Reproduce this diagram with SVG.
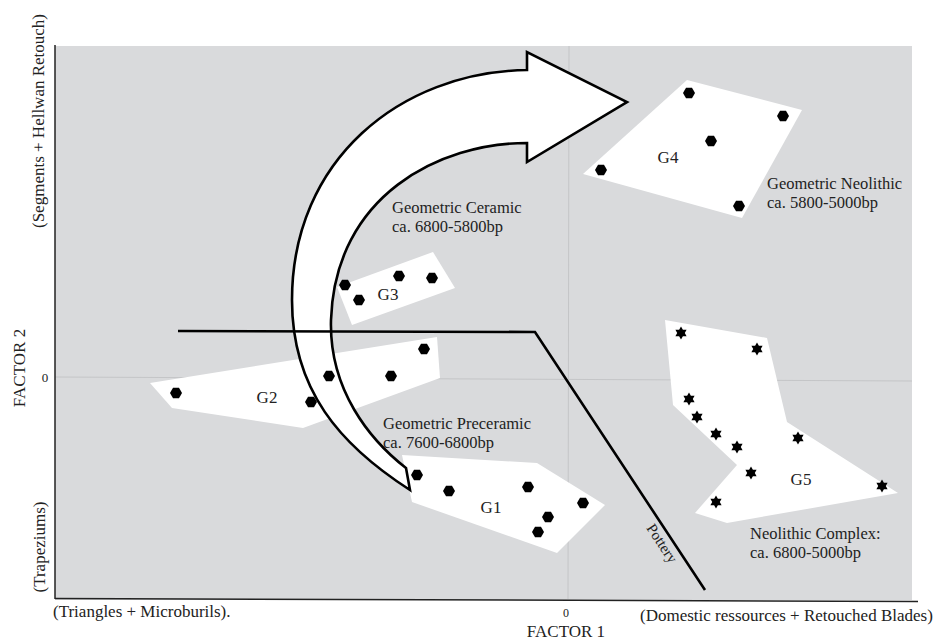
<svg xmlns="http://www.w3.org/2000/svg" xmlns:xlink="http://www.w3.org/1999/xlink" width="938" height="642" viewBox="0 0 938 642">
<style>
text{font-family:"Liberation Serif","Times New Roman",serif;fill:#222;font-size:17px}
.lbl{font-size:16.5px}
.zone{fill:#ffffff;stroke:none}
.axis{stroke:#222;stroke-width:1.5;fill:none}
.zero{stroke:#c4c5c7;stroke-width:1;fill:none}
.conn{stroke:#000;stroke-width:2.6;fill:none;stroke-linejoin:miter}
.mid{text-anchor:middle}
</style>
<defs>
<polygon id="hex" points="6,0 3,5.2 -3,5.2 -6,0 -3,-5.2 3,-5.2" fill="#000"/>
<polygon id="star" points="0,-6.5 1.9,-3.3 5.6,-3.3 3.8,0 5.6,3.3 1.9,3.3 0,6.5 -1.9,3.3 -5.6,3.3 -3.8,0 -5.6,-3.3 -1.9,-3.3" fill="#000"/>
</defs>
<rect width="938" height="642" fill="#fff"/>
<g id="plot">
<rect x="55" y="46" width="857" height="554" fill="#d9dadc"/>
<line class="zero" x1="55" y1="377" x2="912" y2="381"/>
<line class="zero" x1="569" y1="46" x2="568" y2="599"/>
<line class="axis" x1="55" y1="45" x2="55" y2="599"/>
<line class="axis" x1="55" y1="598.5" x2="918" y2="601.5"/>
</g>
<g id="axis-labels">
<text transform="rotate(-90 44 121)" x="44" y="121" class="mid">(Segments + Hellwan Retouch)</text>
<text transform="rotate(-90 25 368)" x="25" y="368" class="mid">FACTOR 2</text>
<text transform="rotate(-90 45 547)" x="45" y="547" class="mid">(Trapeziums)</text>
<text x="45" y="382" class="mid" style="font-size:13px">0</text>
<text x="566" y="617" class="mid" style="font-size:12px">0</text>
<text x="53" y="617">(Triangles + Microburils).</text>
<text x="566" y="637" class="mid">FACTOR 1</text>
<text x="640" y="621">(Domestic ressources + Retouched Blades)</text>
</g>
<g id="G4">
<polygon class="zone" points="687,80 802,110 742,218 583,174"/>
<use href="#hex" x="689" y="93"/><use href="#hex" x="783" y="116"/><use href="#hex" x="711" y="141"/><use href="#hex" x="601" y="170"/><use href="#hex" x="739" y="206"/>
<text x="668" y="163" class="mid">G4</text>
</g>
<g id="G5">
<polygon class="zone" points="665,320 767,338 787,422 898,493 727,523 695,513 737,465 673,405"/>
<use href="#star" x="681" y="333"/><use href="#star" x="757" y="349"/><use href="#star" x="689" y="399"/><use href="#star" x="697" y="417"/><use href="#star" x="716" y="434"/><use href="#star" x="737" y="447"/><use href="#star" x="798" y="438"/><use href="#star" x="751" y="473"/><use href="#star" x="716" y="502"/><use href="#star" x="882" y="486"/>
<text x="801" y="485" class="mid">G5</text>
</g>
<g id="G1">
<polygon class="zone" points="402,455 537,463 605,505 557,553 412,502"/>
<text x="491" y="513" class="mid">G1</text>
</g>
<g id="G2">
<polygon class="zone" points="150,383 437,337 440,378 303,428 172,408"/>
<text x="267" y="403" class="mid">G2</text>
</g>
<g id="G3">
<polygon class="zone" points="337,287 433,252 455,288 352,325"/>
<text x="388" y="300" class="mid">G3</text>
</g>
<g id="connectors">
<path class="conn" style="fill:#fff" d="M410,490 C340,445 292,390 292,300 C292,160 400,72 527,70 L527,52 L627,102 L527,162 L527,143 C440,143 335,195 331,320 C329,390 370,440 406,468 Z"/>
<polyline class="conn" points="178,331 535,332 705,590"/>
<text transform="rotate(56.6 646 528)" x="646" y="528" style="font-size:15px">Pottery</text>
</g>
<g id="points">
<use href="#hex" x="345" y="285"/><use href="#hex" x="359" y="300"/><use href="#hex" x="399" y="276"/><use href="#hex" x="432" y="278"/>
<use href="#hex" x="176" y="393"/><use href="#hex" x="311" y="402"/><use href="#hex" x="329" y="376" fill="#6e6e6e"/><use href="#hex" x="391" y="376"/><use href="#hex" x="424" y="349"/>
<use href="#hex" x="417" y="475"/><use href="#hex" x="449" y="491"/><use href="#hex" x="528" y="487"/><use href="#hex" x="548" y="517"/><use href="#hex" x="538" y="532"/><use href="#hex" x="583" y="503"/>
</g>
<g id="period-labels">
<text class="lbl" x="392" y="213">Geometric Ceramic</text>
<text class="lbl" x="392" y="232">ca. 6800-5800bp</text>
<text class="lbl" x="767" y="189">Geometric Neolithic</text>
<text class="lbl" x="767" y="208">ca. 5800-5000bp</text>
<text class="lbl" x="383" y="429">Geometric Preceramic</text>
<text class="lbl" x="383" y="448">ca. 7600-6800bp</text>
<text class="lbl" x="750" y="539">Neolithic Complex:</text>
<text class="lbl" x="750" y="558">ca. 6800-5000bp</text>
</g>
</svg>
